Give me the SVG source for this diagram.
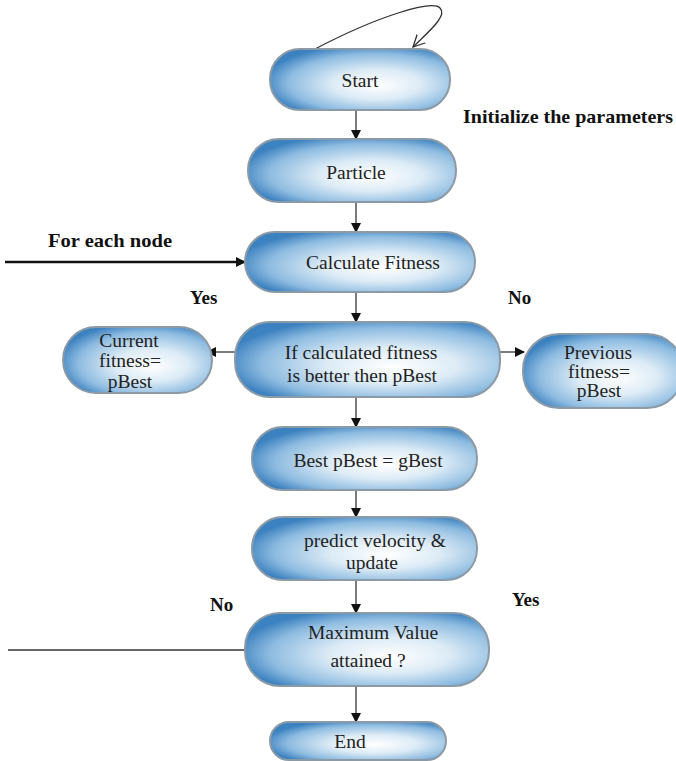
<svg xmlns="http://www.w3.org/2000/svg" width="676" height="761" viewBox="0 0 676 761">
<style>
.node{stroke:#8c9aa6;stroke-width:2;fill:url(#g)}
.t{font-family:"Liberation Serif",serif;font-size:19.5px;fill:#222;text-anchor:middle}
.lb{font-family:"Liberation Serif",serif;font-size:19px;font-weight:bold;fill:#111}
.c{stroke:#333;stroke-width:1.3;fill:none}
</style>
<defs>
<radialGradient id="g" cx="0.58" cy="0.55" r="0.62" fx="0.6" fy="0.6">
<stop offset="0" stop-color="#ffffff"/>
<stop offset="0.4" stop-color="#dcebf6"/>
<stop offset="0.78" stop-color="#8dbbe0"/>
<stop offset="1" stop-color="#3d82c0"/>
</radialGradient>
<marker id="a" markerWidth="10" markerHeight="10" refX="9" refY="5" orient="auto" markerUnits="userSpaceOnUse">
<path d="M0,0 L10,5 L0,10 z" fill="#111"/>
</marker>
<marker id="o" markerWidth="14" markerHeight="14" refX="12" refY="7" orient="auto" markerUnits="userSpaceOnUse">
<path d="M0,1 L12,7 L0,13" fill="none" stroke="#333" stroke-width="1.3"/>
</marker>
</defs>
<g id="connectors">
<path class="c" d="M315,49 C380,15 432,0 440,8 C448,16 428,32 413,47" marker-end="url(#o)"/>
<line class="c" x1="356" y1="110" x2="356" y2="139" marker-end="url(#a)"/>
<line class="c" x1="356" y1="202" x2="356" y2="232" marker-end="url(#a)"/>
<line x1="5" y1="262" x2="245" y2="262" stroke="#111" stroke-width="2.5" marker-end="url(#a)"/>
<line class="c" x1="356" y1="292" x2="356" y2="322" marker-end="url(#a)"/>
<line class="c" x1="235" y1="352" x2="207" y2="352" marker-end="url(#a)"/>
<line class="c" x1="500" y1="352" x2="524" y2="352" marker-end="url(#a)"/>
<line class="c" x1="356" y1="397" x2="356" y2="427" marker-end="url(#a)"/>
<line class="c" x1="356" y1="490" x2="356" y2="517" marker-end="url(#a)"/>
<line class="c" x1="356" y1="580" x2="356" y2="613" marker-end="url(#a)"/>
<line class="c" x1="8" y1="650" x2="245" y2="650"/>
<line class="c" x1="356" y1="686" x2="356" y2="722" marker-end="url(#a)"/>
</g>
<g id="start"><rect class="node" x="270" y="49" width="180" height="61" rx="30"/><text class="t" x="360" y="87">Start</text></g>
<g id="particle"><rect class="node" x="248" y="139" width="208" height="63" rx="31"/><text class="t" x="356" y="179">Particle</text></g>
<g id="calc"><rect class="node" x="245" y="232" width="230" height="60" rx="30"/><text class="t" x="373" y="269">Calculate Fitness</text></g>
<g id="decision"><rect class="node" x="235" y="322" width="265" height="75" rx="35"/><text class="t" x="361" y="359">If calculated fitness</text><text class="t" x="362" y="382">is better then pBest</text></g>
<g id="current"><rect class="node" x="63" y="327" width="149" height="66" rx="33"/><text class="t" x="129" y="347">Current</text><text class="t" x="130" y="367">fitness=</text><text class="t" x="130" y="388">pBest</text></g>
<g id="previous"><rect class="node" x="523" y="334" width="160" height="74" rx="36"/><text class="t" x="598" y="359">Previous</text><text class="t" x="599" y="378">fitness=</text><text class="t" x="599" y="397">pBest</text></g>
<g id="best"><rect class="node" x="252" y="427" width="225" height="63" rx="31"/><text class="t" x="368" y="467">Best pBest = gBest</text></g>
<g id="predict"><rect class="node" x="252" y="517" width="225" height="63" rx="31"/><text class="t" x="375" y="547">predict velocity &amp;</text><text class="t" x="372" y="569">update</text></g>
<g id="max"><rect class="node" x="245" y="613" width="244" height="73" rx="35"/><text class="t" x="373" y="639">Maximum Value</text><text class="t" x="368" y="667">attained ?</text></g>
<g id="end"><rect class="node" x="270" y="722" width="176" height="38" rx="19"/><text class="t" x="350" y="748">End</text></g>
<g id="labels">
<text class="lb" x="463" y="123" textLength="210" lengthAdjust="spacingAndGlyphs">Initialize the parameters</text>
<text class="lb" x="48" y="247" textLength="124" lengthAdjust="spacingAndGlyphs">For each node</text>
<text class="lb" x="190" y="304">Yes</text>
<text class="lb" x="508" y="304">No</text>
<text class="lb" x="210" y="611">No</text>
<text class="lb" x="512" y="606">Yes</text>
</g>
</svg>
